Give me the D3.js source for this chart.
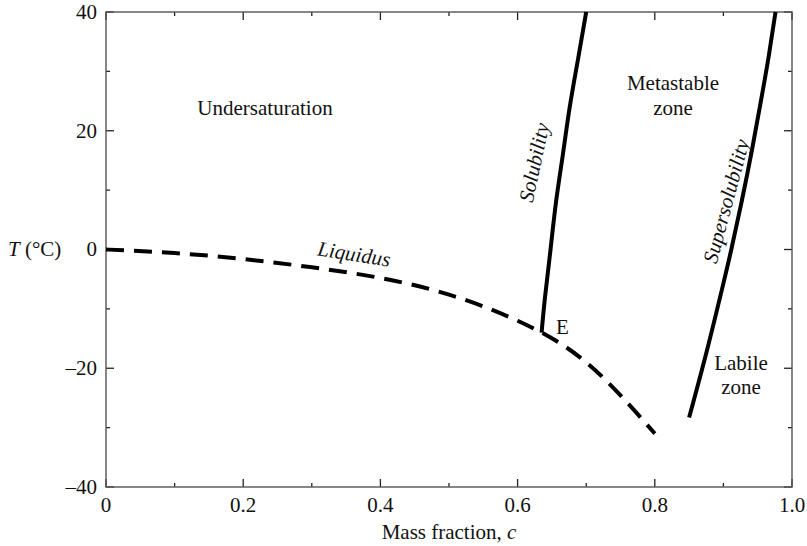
<!DOCTYPE html>
<html>
<head>
<meta charset="utf-8">
<script src="https://cdnjs.cloudflare.com/ajax/libs/d3/7.8.5/d3.min.js"></script>
<style>
	body { margin:0; background:#fff; }
	svg text { font-family:'Liberation Serif', 'Times New Roman', Times, serif; font-size:21px; fill:#111; }
</style>
</head>
<body>
<svg id="chart" width="807" height="546" font-family="Liberation Serif"></svg>
<script>
	// data
	var xTicks = [0, 0.2, 0.4, 0.6, 0.8, 1.0];
	var xMinor = [0.1, 0.3, 0.5, 0.7, 0.9];
	var yTicks = [-40, -20, 0, 20, 40];
	var yMinor = [-30, -10, 10, 30];

	var liquidusC = [0, 0.1, 0.2, 0.3, 0.4, 0.5, 0.6, 0.7, 0.8];
	var liquidusT = [0, -0.6, -1.6, -3, -4.8, -7.6, -12, -19, -31];

	var solubilityC = [0.635, 0.640, 0.648, 0.656, 0.666, 0.676, 0.688, 0.700];
	var solubilityT = [-14, -8, 0, 8, 16, 24, 32, 40];

	var superC = [0.850, 0.876, 0.900, 0.9115, 0.927, 0.942, 0.955, 0.966, 0.976];
	var superT = [-28.3, -17, -5.7, 0, 8.3, 17, 25.2, 32.5, 40];

	var margin = {top: 12, right: 15, bottom: 59, left: 106},
		svg = d3.select("#chart"),
		width = 807 - margin.left - margin.right,
		height = 546 - margin.top - margin.bottom;

	var g = svg.append("g").attr("transform", "translate(" + margin.left + "," + margin.top + ")");

	var x = d3.scaleLinear().domain([0, 1]).range([0, width]);
	var y = d3.scaleLinear().domain([-40, 40]).range([height, 0]);

	function zip(cs, ts){
		return cs.map(function(c, i){ return [c, ts[i]]; });
	}

	var line = d3.line()
		.x(function(d){ return x(d[0]); })
		.y(function(d){ return y(d[1]); })
		.curve(d3.curveNatural);

	// ticks (inward) on all four sides
	function tickSet(vals, len, side){
		vals.forEach(function(v){
			var l = g.append("line").attr("stroke", "#222").attr("stroke-width", 1.3);
			if(side == "bottom") l.attr("x1", x(v)).attr("x2", x(v)).attr("y1", height).attr("y2", height - len);
			if(side == "top") l.attr("x1", x(v)).attr("x2", x(v)).attr("y1", 0).attr("y2", len);
			if(side == "left") l.attr("y1", y(v)).attr("y2", y(v)).attr("x1", 0).attr("x2", len);
			if(side == "right") l.attr("y1", y(v)).attr("y2", y(v)).attr("x1", width).attr("x2", width - len);
		});
	}
	tickSet(xTicks, 8, "bottom"); tickSet(xMinor, 4, "bottom");
	tickSet(xTicks, 8, "top"); tickSet(xMinor, 4, "top");
	tickSet(yTicks, 8, "left"); tickSet(yMinor, 4, "left");
	tickSet(yTicks, 8, "right"); tickSet(yMinor, 4, "right");

	g.append("rect")
		.attr("width", width).attr("height", height)
		.attr("fill", "none").attr("stroke", "#555").attr("stroke-width", 1.4);

	// tick labels
	g.selectAll(".xl").data(xTicks).enter().append("text")
		.attr("x", function(d){ return x(d); })
		.attr("y", height + 25)
		.attr("text-anchor", "middle")
		.text(function(d){ return d == 0 ? "0" : d3.format(".1f")(d); });

	g.selectAll(".yl").data(yTicks).enter().append("text")
		.attr("x", -9)
		.attr("y", function(d){ return y(d); })
		.attr("dy", "0.33em")
		.attr("text-anchor", "end")
		.text(function(d){ return d < 0 ? "\u2013" + Math.abs(d) : d; });

	// axis titles
	var xt = svg.append("text")
		.attr("x", margin.left + width / 2)
		.attr("y", 539)
		.attr("text-anchor", "middle");
	xt.append("tspan").text("Mass fraction, ");
	xt.append("tspan").style("font-style", "italic").text("c");

	var yt = svg.append("text").attr("x", 8).attr("y", 256);
	yt.append("tspan").style("font-style", "italic").text("T");
	yt.append("tspan").text(" (\u00b0C)");

	// curves
	g.append("path")
		.attr("d", line(zip(liquidusC, liquidusT)))
		.attr("fill", "none").attr("stroke", "#000")
		.attr("stroke-width", 4).attr("stroke-dasharray", "18,10");

	g.append("path")
		.attr("d", line(zip(solubilityC, solubilityT)))
		.attr("fill", "none").attr("stroke", "#000").attr("stroke-width", 4);

	g.append("path")
		.attr("d", line(zip(superC, superT)))
		.attr("fill", "none").attr("stroke", "#000").attr("stroke-width", 4);

	// region labels
	function label(txt, px, py, rot, italic){
		var t = svg.append("text")
			.attr("text-anchor", "middle")
			.attr("transform", "translate(" + px + "," + py + ") rotate(" + rot + ")")
			.text(txt);
		if(italic) t.style("font-style", "italic");
		return t;
	}
	label("Undersaturation", 265, 115, 0);
	label("Metastable", 673, 90, 0);
	label("zone", 673, 115, 0);
	label("Labile", 741, 370, 0);
	label("zone", 741, 394, 0);
	label("Solubility", 541, 164, -78, true);
	label("Supersolubility", 733, 203, -75, true);
	label("Liquidus", 353, 261, 9, true);
	svg.append("text").attr("x", 556).attr("y", 334).text("E");
</script>
</body>
</html>
